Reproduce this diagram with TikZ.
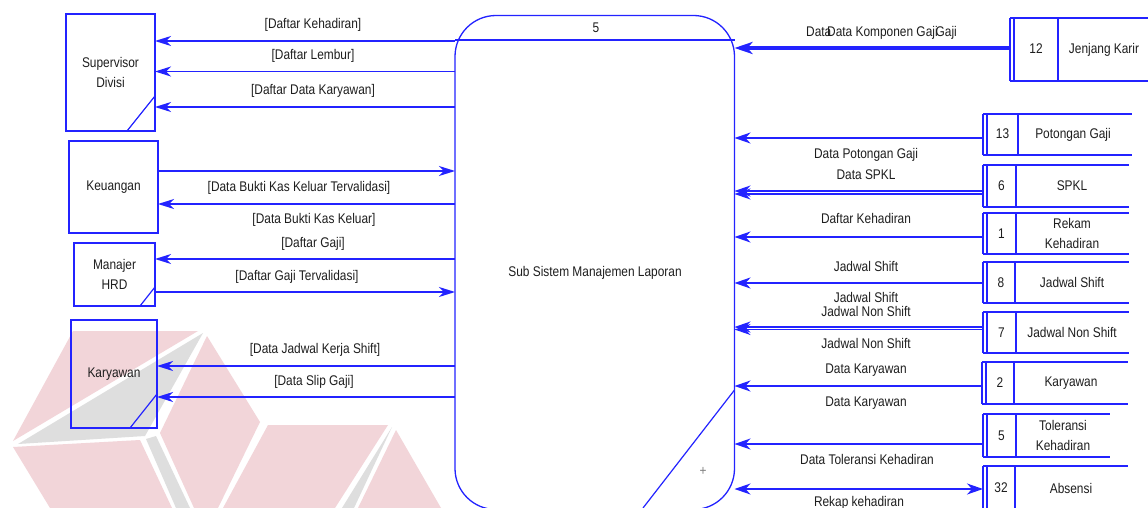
\documentclass[tikz,border=0pt]{standalone}
\usepackage{fontspec}
\setmainfont{Liberation Sans}[FakeStretch=0.85]
\usetikzlibrary{arrows.meta}
\definecolor{dblue}{RGB}{35,35,255}
\definecolor{wpink}{RGB}{242,213,217}
\definecolor{wgray}{RGB}{222,222,222}
\definecolor{txt}{RGB}{30,30,30}
% #1 name, #2 x0, #3 ytop, #4 ybot, #5 xdiv, #6 xright, #7 number, #8 label, #9 label x
\newcommand{\dstore}[9]{%
  \node[inner sep=0pt, outer sep=0pt, anchor=north west, minimum width={(#6-#2)*1pt}, minimum height={(#4-#3)*1pt}] (#1) at (#2,#3) {};
  \draw[storeline] (#2,#3) -- (#2,#4) ({#2+4},#3) -- ({#2+4},#4) (#5,#3) -- (#5,#4) (#2,#3) -- (#6,#3) (#2,#4) -- (#6,#4);
  \node[lbl] (#1-n) at ({(#2+4+#5)/2},{(#3+#4)/2}) {#7};
  \node[slbl] (#1-t) at (#9,{(#3+#4)/2}) {#8};
}
\begin{document}
\begin{tikzpicture}[x=1pt,y=-1pt,
  lbl/.style={text=txt, font=\fontsize{14}{20}\selectfont, inner sep=0pt, text height=10pt, text depth=1pt},
  slbl/.style={text=txt, font=\fontsize{14}{20}\selectfont, inner sep=0pt, align=center},
  ent/.style={draw=dblue, line width=1.3pt, inner sep=0pt, outer sep=0pt, anchor=north west, text=txt, font=\fontsize{14}{20}\selectfont, align=center},
  storeline/.style={draw=dblue, line width=1.4pt},
  la/.style={draw=dblue, line width=1.3pt, -{Stealth[length=16pt,width=10pt,inset=5pt]}},
  ra/.style={draw=dblue, line width=2pt, -{Stealth[length=16pt,width=11pt,inset=5pt]}},
  thin/.style={draw=dblue, line width=1.2pt},
]
\useasboundingbox (0,0) rectangle (1148,508);
\fill[white] (0,0) rectangle (1148,508);
% watermark
\fill[wpink] (73,331) -- (198,331) -- (13,441) -- cycle;
\fill[wgray] (18,444) -- (203,333) -- (145,436) -- cycle;
\fill[wpink] (13,447) -- (140,440) -- (172,508) -- (50,508) -- cycle;
\fill[wgray] (146,439) -- (156,436) -- (190,508) -- (176,508) -- cycle;
\fill[wpink] (207,336) -- (260,422) -- (218,508) -- (194,508) -- (160,433) -- cycle;
\fill[wpink] (268,425) -- (388,425) -- (335,508) -- (223,508) -- cycle;
\fill[wgray] (392,427) -- (354,508) -- (342,508) -- cycle;
\fill[wpink] (396,430) -- (441,508) -- (358,508) -- cycle;

% process
\node[draw=dblue, line width=1.3pt, rounded corners=41pt, inner sep=0pt, outer sep=0pt, anchor=north west, minimum width=279.5pt, minimum height=494pt] (proc) at (455,15.5) {};
\draw[thin] (proc.west |- 0,40) -- (proc.east |- 0,40);
\node[lbl] (pnum) at (596,28) {5};
\node[lbl] (pname) at (595,272) {Sub Sistem Manajemen Laporan};
\coordinate (pdiag) at (643,508);
\draw[thin] (proc.east |- 0,390) -- (pdiag);
\node[text=gray, font=\fontsize{14}{14}\selectfont, inner sep=0pt] (plus) at (703,471) {+};

% external entities
\node[ent, minimum width=89pt, minimum height=117pt] (sup) at (66,14) {Supervisor\\Divisi};
\draw[thin] (sup.east |- 0,96) -- (sup.south -| 127,0);
\node[ent, minimum width=89pt, minimum height=92pt] (keu) at (69,141) {Keuangan};
\node[ent, minimum width=81pt, minimum height=63pt] (hrd) at (74,243) {Manajer\\HRD};
\draw[thin] (hrd.east |- 0,287) -- (hrd.south -| 140,0);
\node[ent, line width=2pt, minimum width=86pt, minimum height=108pt] (kar) at (71,320) {Karyawan};
\draw[thin] (kar.east |- 0,394) -- (kar.south -| 130,0);

% left flows
\draw[la] (proc.west |- 0,41) -- (sup.east |- 0,41);
\draw[la] (proc.west |- 0,71.5) -- (sup.east |- 0,71.5);
\draw[la] (proc.west |- 0,107) -- (sup.east |- 0,107);
\draw[la] (keu.east |- 0,171) -- (proc.west |- 0,171);
\draw[la] (proc.west |- 0,204) -- (keu.east |- 0,204);
\draw[la] (proc.west |- 0,259) -- (hrd.east |- 0,259);
\draw[la] (hrd.east |- 0,292) -- (proc.west |- 0,292);
\draw[la] (proc.west |- 0,366) -- (kar.east |- 0,366);
\draw[la] (proc.west |- 0,397) -- (kar.east |- 0,397);

\node[lbl] (l1) at (313,24) {[Daftar Kehadiran]};
\node[lbl] (l2) at (313,55) {[Daftar Lembur]};
\node[lbl] (l3) at (313,90) {[Daftar Data Karyawan]};
\node[lbl] (l4) at (299,187) {[Data Bukti Kas Keluar Tervalidasi]};
\node[lbl] (l5) at (314,219) {[Data Bukti Kas Keluar]};
\node[lbl] (l6) at (313,243) {[Daftar Gaji]};
\node[lbl] (l7) at (297,276) {[Daftar Gaji Tervalidasi]};
\node[lbl] (l8) at (315,349) {[Data Jadwal Kerja Shift]};
\node[lbl] (l9) at (314,381) {[Data Slip Gaji]};

% data stores
\dstore{jk}{1010}{18}{81}{1058}{1152}{12}{Jenjang Karir}{1104}
\dstore{pg}{983}{114}{155}{1018}{1132}{13}{Potongan Gaji}{1073}
\dstore{spkl}{983}{165}{207}{1016}{1129}{6}{SPKL}{1072}
\dstore{rk}{983}{213}{254}{1016}{1129}{1}{Rekam\\Kehadiran}{1072}
\dstore{js}{983}{262}{303}{1015}{1129}{8}{Jadwal Shift}{1072}
\dstore{jns}{983}{312}{353}{1016}{1129}{7}{Jadwal Non Shift}{1072}
\dstore{ky}{982}{362}{404}{1014}{1128}{2}{Karyawan}{1071}
\dstore{tk}{983}{414}{457}{1016}{1110}{5}{Toleransi\\Kehadiran}{1063}
\dstore{ab}{983}{466}{510}{1015}{1128}{32}{Absensi}{1071}

% right flows
\draw[ra, line width=3.5pt, -{Stealth[length=18pt,width=12pt,inset=5pt]}] (jk.west |- 0,48) -- (proc.east |- 0,48);
\draw[ra, line width=1.8pt] (pg.west |- 0,138) -- (proc.east |- 0,138);
\draw[ra, line width=1.3pt] (spkl.west |- 0,191) -- (proc.east |- 0,191);
\draw[ra, line width=1.3pt] (spkl.west |- 0,194) -- (proc.east |- 0,194);
\draw[ra] (rk.west |- 0,237) -- (proc.east |- 0,237);
\draw[ra, line width=2.2pt] (js.west |- 0,283) -- (proc.east |- 0,283);
\draw[ra, line width=1.3pt] (jns.west |- 0,327) -- (proc.east |- 0,327);
\draw[ra, line width=1.3pt] (jns.west |- 0,329.5) -- (proc.east |- 0,329.5);
\draw[ra, line width=1.8pt] (ky.west |- 0,386) -- (proc.east |- 0,386);
\draw[ra, line width=1.5pt] (tk.west |- 0,444) -- (proc.east |- 0,444);
\draw[ra, line width=1.5pt, {Stealth[length=16pt,width=11pt,inset=5pt]}-{Stealth[length=16pt,width=11pt,inset=5pt]}] (proc.east |- 0,489) -- (ab.west |- 0,489);

\node[lbl, anchor=west] (r0a) at (806,32) {Data};
\node[lbl, anchor=west] (r0b) at (827,32) {Data Komponen Gaji};
\node[lbl, anchor=east] (r0c) at (957,32) {Gaji};
\node[lbl] (r1) at (866,154) {Data Potongan Gaji};
\node[lbl] (r2) at (866,175) {Data SPKL};
\node[lbl] (r3) at (866,219) {Daftar Kehadiran};
\node[lbl] (r4) at (866,267) {Jadwal Shift};
\node[lbl] (r5) at (866,298) {Jadwal Shift};
\node[lbl] (r6) at (866,312) {Jadwal Non Shift};
\node[lbl] (r7) at (866,344) {Jadwal Non Shift};
\node[lbl] (r8) at (866,369) {Data Karyawan};
\node[lbl] (r9) at (866,402) {Data Karyawan};
\node[lbl] (r10) at (867,460) {Data Toleransi Kehadiran};
\node[lbl] (r11) at (859,502) {Rekap kehadiran};
\end{tikzpicture}
\end{document}
